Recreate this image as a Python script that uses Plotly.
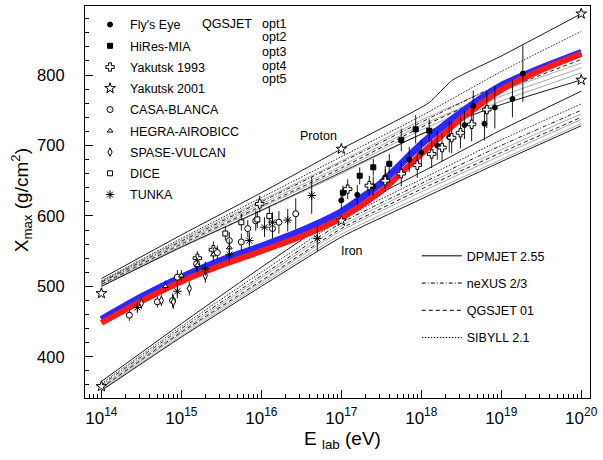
import plotly.graph_objects as go

# ---------------- data ----------------
LOGE = [14, 15, 16, 17, 18, 19, 20]

# proton simulation lines (Xmax, g/cm^2)
P_DPMJET_LOGE = [14, 15, 16, 17, 18.1, 18.38, 19, 20]
P_DPMJET = [511, 573, 633, 695, 761, 792, 827, 887]
P_SIBYLL = [508, 568, 626, 684, 742, 805, 862]
P_NEXUS = [506, 564, 620, 676, 733, 788, 835]
P_QGSJET = [503, 560, 614, 668, 726, 778, 822]
P_DPMJET2 = [500, 556, 608, 662, 716, 758, 793]
P_OPT = [
    [507, 566, 622, 678, 736, 786, 827],
    [505, 562, 617, 671, 729, 777, 817],
    [502, 558, 612, 665, 722, 770, 810],
    [500, 555, 607, 660, 716, 763, 803],
]

# iron simulation lines
I_DPMJET = [365, 447, 527, 603, 662, 722, 777]
I_SIBYLL = [362, 443, 520, 595, 652, 708, 759]
I_NEXUS = [360, 440, 515, 590, 646, 700, 750]
I_QGSJET = [356, 435, 508, 582, 638, 690, 740]
I_DPMJET2 = [352, 428, 500, 570, 624, 677, 728]
I_OPT = [
    [358, 437, 512, 586, 642, 694, 745],
    [355, 433, 506, 579, 634, 686, 737],
    [353, 430, 503, 574, 628, 680, 731],
]

# thick fitted curves
FIT_LOGE = [14, 14.5, 15, 15.5, 16, 16.5, 17, 17.5, 18, 18.5, 19, 19.5, 20]
FIT_BLUE = [453, 485, 513, 537, 557, 579, 606, 647, 702, 747, 785, 810, 832]
FIT_RED = [448, 479, 507, 530, 550, 571, 597, 635, 688, 738, 779, 807, 830]

# measurements: log10(E), Xmax, error
FLY_LOGE = [17.0, 17.2, 17.4, 17.55, 17.85, 18.0, 18.2, 18.35, 18.54, 18.65, 18.79, 18.92, 19.14, 19.27]
FLY_X = [622, 630, 642, 655, 680, 690, 700, 712, 729, 756, 731, 754, 766, 802]
FLY_ERR = [12, 14, 14, 16, 18, 18, 20, 22, 20, 22, 24, 30, 26, 40]

HIRES_LOGE = [17.02, 17.23, 17.4, 17.6, 17.75, 17.93, 18.1]
HIRES_X = [633, 657, 669, 674, 708, 723, 721]
HIRES_ERR = [10, 12, 12, 14, 16, 20, 16]

YAK93_LOGE = [15.2, 15.4, 15.98, 17.08, 17.35, 17.55, 17.75, 17.95, 18.13, 18.26, 18.38, 18.49, 18.63, 18.82]
YAK93_X = [540, 552, 617, 638, 643, 650, 660, 672, 688, 697, 711, 718, 730, 751]
YAK93_ERR = [10, 12, 12, 14, 14, 16, 18, 18, 20, 20, 22, 22, 24, 26]

YAK01_LOGE = [14, 14, 17, 17, 20, 20]
YAK01_X = [490, 358, 695, 593, 887, 793]

CASA_LOGE = [14.35, 14.7, 14.89, 14.95, 15.19, 15.45, 15.6, 15.75, 15.83, 15.93, 16.14, 16.22, 16.43]
CASA_X = [459, 478, 480, 513, 532, 548, 565, 563, 582, 593, 582, 591, 603]
CASA_ERR = [8, 8, 10, 10, 10, 10, 12, 12, 12, 14, 14, 16, 22]

HEGRA_LOGE = [14.8, 15.0, 15.2, 15.4, 15.6]
HEGRA_X = [500, 515, 530, 545, 555]
HEGRA_ERR = [8, 8, 10, 10, 12]

SPASE_LOGE = [14.5, 14.75, 14.9, 15.1, 15.3]
SPASE_X = [476, 480, 478, 497, 515]
SPASE_ERR = [8, 8, 10, 10, 10]

DICE_LOGE = [15.55, 15.75, 15.95, 16.1]
DICE_X = [575, 591, 595, 600]
DICE_ERR = [10, 12, 12, 14]

TUNKA_LOGE = [14.45, 14.95, 15.3, 15.6, 15.85, 16.04, 16.14, 16.33, 16.63, 16.7]
TUNKA_X = [470, 493, 525, 545, 565, 584, 591, 594, 629, 568]
TUNKA_ERR = [8, 10, 10, 12, 12, 14, 14, 16, 26, 18]

X_TICKS = [14, 15, 16, 17, 18, 19, 20]
Y_TICKS = [400, 500, 600, 700, 800]
OPT_LABELS = ["opt1", "opt2", "opt3", "opt4", "opt5"]

# ---------------- figure ----------------
E = lambda arr: [10.0 ** v for v in arr]
fig = go.Figure()

SOLID = "solid"
DOT = "1.5px,1.5px"
DASHDOT = "4px,2px,1px,2px"
DASH = "4px,3px"
GREY = "#a0a0a0"


def model_line(lx, ly, dash, color="black", width=0.9):
    fig.add_trace(go.Scatter(x=E(lx), y=ly, mode="lines", showlegend=False,
                             line=dict(color=color, width=width, dash=dash, shape="spline", smoothing=0.5),
                             hoverinfo="skip"))


for ys in P_OPT:
    model_line(LOGE, ys, SOLID, GREY, 0.9)
for ys in I_OPT:
    model_line(LOGE, ys, SOLID, GREY, 0.9)
model_line(P_DPMJET_LOGE, P_DPMJET, SOLID)
model_line(LOGE, P_SIBYLL, DOT)
model_line(LOGE, P_NEXUS, DASHDOT)
model_line(LOGE, P_QGSJET, DASH)
model_line(LOGE, P_DPMJET2, SOLID)
model_line(LOGE, I_DPMJET, SOLID)
model_line(LOGE, I_SIBYLL, DOT)
model_line(LOGE, I_NEXUS, DASHDOT)
model_line(LOGE, I_QGSJET, DASH)
model_line(LOGE, I_DPMJET2, SOLID)

# thick curves
fig.add_trace(go.Scatter(x=E(FIT_LOGE), y=FIT_BLUE, mode="lines", showlegend=False,
                         line=dict(color="#2a2aff", width=7, shape="spline", smoothing=0.6)))
fig.add_trace(go.Scatter(x=E(FIT_LOGE), y=FIT_RED, mode="lines", showlegend=False,
                         line=dict(color="#ff1a1a", width=6, shape="spline", smoothing=0.6)))


def data_trace(name, lx, ly, err, symbol, size, fill="white"):
    fig.add_trace(go.Scatter(
        x=E(lx), y=ly, mode="markers", name=name, legend="legend", legendgroup=name,
        error_y=dict(type="data", array=err, visible=True, color="black", thickness=0.9, width=0)
        if err is not None else None,
        marker=dict(symbol=symbol, size=size, color=fill,
                    line=dict(color="black", width=1))))


data_trace("Fly's Eye", FLY_LOGE, FLY_X, FLY_ERR, "circle", 5, "black")
data_trace("HiRes-MIA", HIRES_LOGE, HIRES_X, HIRES_ERR, "square", 5, "black")
data_trace("Yakutsk 1993", YAK93_LOGE, YAK93_X, YAK93_ERR, "cross", 7)
data_trace("Yakutsk 2001", YAK01_LOGE, YAK01_X, None, "star", 8)
data_trace("CASA-BLANCA", CASA_LOGE, CASA_X, CASA_ERR, "circle", 6)
data_trace("HEGRA-AIROBICC", HEGRA_LOGE, HEGRA_X, HEGRA_ERR, "triangle-up", 5)
data_trace("SPASE-VULCAN", SPASE_LOGE, SPASE_X, SPASE_ERR, "diamond-tall", 6)
data_trace("DICE", DICE_LOGE, DICE_X, DICE_ERR, "square", 5)
data_trace("TUNKA", TUNKA_LOGE, TUNKA_X, TUNKA_ERR, "asterisk-open", 7, "black")

# line-style legend
for nm, ds in [("DPMJET 2.55", SOLID), ("neXUS 2/3", DASHDOT), ("QGSJET 01", DASH), ("SIBYLL 2.1", DOT)]:
    fig.add_trace(go.Scatter(x=[None], y=[None], mode="lines", name=nm, legend="legend2", legendgroup=nm,
                             line=dict(color="black", width=1, dash=ds)))

minor_x = [k * 10.0 ** d for d in range(13, 21) for k in range(2, 10)]

fig.update_layout(
    width=603, height=460,
    margin=dict(l=85, r=6, t=5, b=62),
    plot_bgcolor="white", paper_bgcolor="white",
    font=dict(family="Liberation Sans, Arial, sans-serif", color="black", size=13),
    legend=dict(x=0.01, y=0.99, xanchor="left", yanchor="top", bgcolor="rgba(0,0,0,0)",
                font=dict(size=12.5), tracegroupgap=2, itemwidth=30),
    legend2=dict(x=0.657, y=0.4, xanchor="left", yanchor="top", bgcolor="rgba(0,0,0,0)",
                 font=dict(size=12.5), tracegroupgap=8, itemwidth=40),
    xaxis=dict(type="log", range=[13.795, 20.11], tickvals=E(X_TICKS),
               ticktext=["10<sup>%d</sup>" % v for v in X_TICKS],
               ticks="inside", ticklen=8, tickwidth=1, tickcolor="black",
               showline=True, linecolor="black", linewidth=1.2, mirror=True,
               showgrid=False, zeroline=False, tickfont=dict(size=17), ticklabelstandoff=4,
               ticklabeloverflow="allow",
               minor=dict(tickvals=minor_x, ticks="inside", ticklen=4, tickcolor="black", showgrid=False)),
    yaxis=dict(range=[341.5, 898], tickvals=Y_TICKS, ticks="inside", ticklen=8, tickwidth=1,
               tickcolor="black", showline=True, linecolor="black", linewidth=1.2, mirror=True,
               showgrid=False, zeroline=False, tickfont=dict(size=16.5), ticklabelstandoff=16,
               minor=dict(dtick=20, ticks="inside", ticklen=4, tickcolor="black", showgrid=False)),
)

ann = []
ann.append(dict(text="X<sub>max</sub> (g/cm<sup>2</sup>)", xref="paper", yref="paper", x=-0.125, y=0.504,
                xanchor="center", yanchor="middle",
                textangle=-90, showarrow=False, font=dict(size=19)))
ann.append(dict(text="E <sub>lab</sub> (eV)", xref="paper", yref="paper", x=0.51, y=-0.108,
                xanchor="center", yanchor="middle", showarrow=False, font=dict(size=19)))
ann.append(dict(text="Proton", x=16.72, y=714, xref="x", yref="y", showarrow=False, font=dict(size=12.5)))
ann.append(dict(text="Iron", x=17.13, y=550, xref="x", yref="y", showarrow=False, font=dict(size=12.5)))
ann.append(dict(text="QGSJET", xref="paper", yref="paper", x=(201.7 - 85) / 512, y=(398 - 22.7) / 393,
                xanchor="left", yanchor="middle", showarrow=False, font=dict(size=12.5)))
opt_y = [22.7, 36.5, 50.7, 65, 78.5]
for lab, py in zip(OPT_LABELS, opt_y):
    ann.append(dict(text=lab, xref="paper", yref="paper", x=(262.7 - 85) / 512, y=(398 - py) / 393,
                    xanchor="left", yanchor="middle", showarrow=False, font=dict(size=12.5)))
fig.update_layout(annotations=ann)

fig.write_html("out.html")
